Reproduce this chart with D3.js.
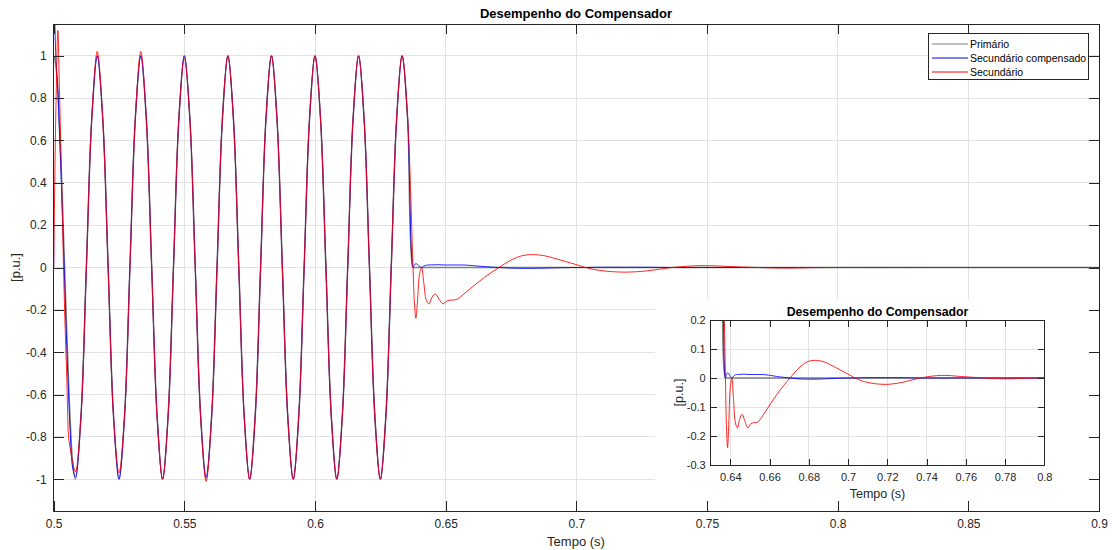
<!DOCTYPE html>
<html><head><meta charset="utf-8">
<script src="https://cdn.jsdelivr.net/npm/d3@7"></script>
<style>
html,body{margin:0;padding:0;background:#fff;}
svg{display:block;font-family:"Liberation Sans",Arial,Helvetica,sans-serif;}
</style></head>
<body>
<svg id="chart" width="1114" height="550"></svg>
<script>
// ---------- DATA ----------
const chartTitle = "Desempenho do Compensador";
const xLabel = "Tempo (s)";
const yLabel = "[p.u.]";
const seriesNames = ["Primário", "Secundário compensado", "Secundário"];

const time = [
  0.5000, 0.50003, 0.5008, 0.5016, 0.50208, 0.5030, 0.50417, 0.5050, 0.5057, 0.50625, 0.5073, 0.50833,
  0.510417, 0.5125, 0.514583, 0.516667, 0.51875, 0.520833, 0.522917, 0.525,
  0.527083, 0.529167, 0.53125, 0.533333, 0.535417, 0.5375, 0.539583, 0.541667,
  0.54375, 0.545833, 0.547917, 0.55, 0.552083, 0.554167, 0.55625, 0.558333,
  0.560417, 0.5625, 0.564583, 0.566667, 0.56875, 0.570833, 0.572917, 0.575,
  0.577083, 0.579167, 0.58125, 0.583333, 0.585417, 0.5875, 0.589583, 0.591667,
  0.59375, 0.595833, 0.597917, 0.6, 0.602083, 0.604167, 0.60625, 0.608333,
  0.610417, 0.6125, 0.614583, 0.616667, 0.61875, 0.620833, 0.622917, 0.625,
  0.627083, 0.629167, 0.63125, 0.633333, 0.635417, 0.6375,
  0.6380, 0.6386, 0.6392, 0.6400, 0.6408, 0.6416, 0.6426, 0.6436, 0.6448, 0.6460,
  0.6475, 0.6490, 0.6505, 0.6520, 0.6540, 0.6565, 0.6594, 0.6650, 0.6704, 0.6750,
  0.6790, 0.6832, 0.6880, 0.6940, 0.7009, 0.7035, 0.7090, 0.7188, 0.7270, 0.7366,
  0.7477, 0.7580, 0.7690, 0.7800, 0.7900, 0.8000, 0.8500, 0.9000
];

const primario = [
  1, 1, 0.955, 0.824, 0.707, 0.426, 0, -0.309, -0.546, -0.707, -0.925, -1,
  -0.707, 0, 0.707, 1, 0.707, 0, -0.707, -1,
  -0.707, 0, 0.707, 1, 0.707, 0, -0.707, -1,
  -0.707, 0, 0.707, 1, 0.707, 0, -0.707, -1,
  -0.707, 0, 0.707, 1, 0.707, 0, -0.707, -1,
  -0.707, 0, 0.707, 1, 0.707, 0, -0.707, -1,
  -0.707, 0, 0.707, 1, 0.707, 0, -0.707, -1,
  -0.707, 0, 0.707, 1, 0.707, 0, -0.707, -1,
  -0.707, 0, 0.707, 1, 0.707, 0,
  0, 0, 0, 0, 0, 0, 0, 0, 0, 0,
  0, 0, 0, 0, 0, 0, 0, 0, 0, 0,
  0, 0, 0, 0, 0, 0, 0, 0, 0, 0,
  0, 0, 0, 0, 0, 0, 0, 0
];

const secundarioCompensado = [
  0, 1.35, 1.0, 0.84, 0.68, 0.37, -0.06, -0.37, -0.6, -0.76, -0.95, -0.99,
  -0.707, 0, 0.707, 1, 0.707, 0, -0.707, -1,
  -0.707, 0, 0.707, 1, 0.707, 0, -0.707, -1,
  -0.707, 0, 0.707, 1, 0.707, 0, -0.707, -0.99,
  -0.707, 0, 0.707, 1, 0.707, 0, -0.707, -1,
  -0.707, 0, 0.707, 1, 0.707, 0, -0.707, -1,
  -0.707, 0, 0.707, 1, 0.707, 0, -0.707, -1,
  -0.707, 0, 0.707, 1, 0.707, 0, -0.707, -1,
  -0.707, 0, 0.707, 1, 0.707, 0,
  0.012, 0.018, 0.015, 0.005, 0.0, 0.006, 0.011, 0.012, 0.012, 0.013,
  0.013, 0.012, 0.012, 0.012, 0.012, 0.012, 0.010, 0.004, 0.0, -0.003,
  -0.004, -0.004, -0.003, -0.001, 0.0, 0.0, 0.001, 0.001, 0.001, 0.0,
  0.0, 0.0, 0.0, 0.0, 0.0, 0.0, 0, 0
];

const secundario = [
  0, 0.03, 0.72, 1.12, 0.9, 0.42, -0.2, -0.52, -0.8, -0.85, -0.92, -0.965,
  -0.707, 0, 0.707, 1.02, 0.707, 0, -0.707, -0.97,
  -0.707, 0, 0.707, 1.02, 0.707, 0, -0.707, -1,
  -0.707, 0, 0.707, 0.99, 0.707, 0, -0.707, -1.01,
  -0.707, 0, 0.707, 1, 0.707, 0, -0.707, -1,
  -0.707, 0, 0.707, 1, 0.707, 0, -0.707, -1,
  -0.707, 0, 0.707, 1, 0.707, 0, -0.707, -1,
  -0.707, 0, 0.707, 1, 0.707, 0, -0.707, -1,
  -0.707, 0, 0.707, 1, 0.707, 0,
  -0.16, -0.24, -0.16, -0.03, 0.0, -0.07, -0.155, -0.172, -0.14, -0.125,
  -0.15, -0.172, -0.158, -0.154, -0.152, -0.13, -0.1, -0.045, 0.0, 0.035,
  0.055, 0.061, 0.055, 0.035, 0.01, 0.0, -0.014, -0.022, -0.016, 0.0,
  0.009, 0.005, 0.0, -0.003, -0.001, 0.0, 0, 0
];

const mainXTicks = [0.5, 0.55, 0.6, 0.65, 0.7, 0.75, 0.8, 0.85, 0.9];
const mainYTicks = [-1, -0.8, -0.6, -0.4, -0.2, 0, 0.2, 0.4, 0.6, 0.8, 1];
const insetXTicks = [0.64, 0.66, 0.68, 0.7, 0.72, 0.74, 0.76, 0.78, 0.8];
const insetYTicks = [-0.3, -0.2, -0.1, 0, 0.1, 0.2];

const colors = ["#808080", "#0000ff", "#ff0000"];
const series = [primario, secundarioCompensado, secundario];

// ---------- DRAW ----------
const svg = d3.select("#chart");
const axisColor = "#262626";
const gridColor = "#e2e2e2";
const fmt = d => String(+d.toFixed(2));

function drawGrid(g, x, y, xt, yt) {
  const [x0, x1] = x.range(), [y0, y1] = y.range();
  const gl = g.append("g");
  gl.selectAll(".gx").data(xt).join("line")
    .attr("x1", d => x(d)).attr("x2", d => x(d)).attr("y1", y0).attr("y2", y1)
    .attr("stroke", gridColor).attr("stroke-width", 1).attr("shape-rendering", "crispEdges");
  gl.selectAll(".gy").data(yt).join("line")
    .attr("y1", d => y(d)).attr("y2", d => y(d)).attr("x1", x0).attr("x2", x1)
    .attr("stroke", gridColor).attr("stroke-width", 1).attr("shape-rendering", "crispEdges");
}

function drawFrame(g, x, y, xt, yt, o) {
  const [x0, x1] = x.range(), [y0, y1] = y.range();
  const ts = o.tick;
  const style = sel => {
    sel.select(".domain").remove();
    sel.selectAll("line").attr("stroke", axisColor).attr("shape-rendering", "crispEdges");
    sel.selectAll("text").attr("fill", axisColor).style("font-size", o.font + "px")
      .style("font-family", '"Liberation Sans",Arial,sans-serif');
  };
  g.append("g").attr("transform", `translate(0,${y0})`)
    .call(d3.axisBottom(x).tickValues(xt).tickFormat(fmt).tickSize(-ts).tickPadding(o.xpad)).call(style);
  g.append("g").attr("transform", `translate(0,${y1})`)
    .call(d3.axisTop(x).tickValues(xt).tickFormat("").tickSize(-ts)).call(style);
  g.append("g").attr("transform", `translate(${x0},0)`)
    .call(d3.axisLeft(y).tickValues(yt).tickFormat(fmt).tickSize(-ts).tickPadding(o.ypad)).call(style);
  g.append("g").attr("transform", `translate(${x1},0)`)
    .call(d3.axisRight(y).tickValues(yt).tickFormat("").tickSize(-ts)).call(style);
  g.append("rect").attr("x", x0).attr("y", y1).attr("width", x1 - x0).attr("height", y0 - y1)
    .attr("fill", "none").attr("stroke", axisColor).attr("stroke-width", 1).attr("shape-rendering", "crispEdges");
}

function drawLines(g, x, y, clipId) {
  const [x0, x1] = x.range(), [y0, y1] = y.range();
  svg.append("defs").append("clipPath").attr("id", clipId)
    .append("rect").attr("x", x0).attr("y", y1).attr("width", x1 - x0).attr("height", y0 - y1);
  const lg = g.append("g").attr("clip-path", `url(#${clipId})`);
  const line = d3.line().x((d, i) => x(time[i])).y(d => y(d)).curve(d3.curveCatmullRom.alpha(0.5));
  series.forEach((s, k) => {
    lg.append("path").attr("d", line(s)).attr("fill", "none")
      .attr("stroke", colors[k]).attr("stroke-width", k === 0 ? 1.5 : 0.85)
      .attr("stroke-linejoin", "round");
  });
}

// Main axes
const x = d3.scaleLinear().domain([0.5, 0.9]).range([53.7, 1099]);
const y = d3.scaleLinear().domain([-1.15, 1.15]).range([511, 24]);
const main = svg.append("g");
main.append("rect").attr("x", 53.7).attr("y", 24).attr("width", 1099 - 53.7).attr("height", 487).attr("fill", "#fff");
drawGrid(main, x, y, mainXTicks, mainYTicks);
drawLines(main, x, y, "clipMain");

// white panel behind inset
svg.append("rect").attr("x", 655).attr("y", 299).attr("width", 443).attr("height", 211).attr("fill", "#fff");

drawFrame(svg.append("g"), x, y, mainXTicks, mainYTicks, {tick: 10, font: 12, xpad: 8, ypad: 7});

svg.append("text").attr("x", 576).attr("y", 18).attr("text-anchor", "middle")
  .style("font-size", "13px").style("font-weight", "bold").attr("fill", "#000").text(chartTitle);
svg.append("text").attr("x", 576).attr("y", 546).attr("text-anchor", "middle")
  .style("font-size", "13px").attr("fill", axisColor).text(xLabel);
svg.append("text").attr("transform", "translate(20,267.5) rotate(-90)").attr("text-anchor", "middle")
  .style("font-size", "13px").attr("fill", axisColor).text(yLabel);

// Legend
const leg = svg.append("g");
leg.append("rect").attr("x", 928.5).attr("y", 33.5).attr("width", 160).attr("height", 46)
  .attr("fill", "#fff").attr("stroke", axisColor).attr("stroke-width", 1);
seriesNames.forEach((n, k) => {
  const yy = 44 + k * 14;
  leg.append("line").attr("x1", 932).attr("x2", 968).attr("y1", yy).attr("y2", yy)
    .attr("stroke", colors[k]).attr("stroke-width", 1);
  leg.append("text").attr("x", 970).attr("y", yy + 4).style("font-size", "10.5px")
    .attr("fill", "#000").text(n);
});

// Inset
const xi = d3.scaleLinear().domain([0.63, 0.8]).range([710.7, 1044.3]);
const yi = d3.scaleLinear().domain([-0.3, 0.2]).range([465, 320]);
const inset = svg.append("g");
inset.append("rect").attr("x", 710.7).attr("y", 320).attr("width", 1044.3 - 710.7).attr("height", 145).attr("fill", "#fff");
drawGrid(inset, xi, yi, insetXTicks, insetYTicks);
drawLines(inset, xi, yi, "clipInset");
drawFrame(inset, xi, yi, insetXTicks, insetYTicks, {tick: 6.5, font: 11, xpad: 8, ypad: 5});
svg.append("text").attr("x", 877.5).attr("y", 315.5).attr("text-anchor", "middle")
  .style("font-size", "12.3px").style("font-weight", "bold").attr("fill", "#000").text(chartTitle);
svg.append("text").attr("x", 877.5).attr("y", 497.5).attr("text-anchor", "middle")
  .style("font-size", "12.5px").attr("fill", axisColor).text(xLabel);
svg.append("text").attr("transform", "translate(683,392.5) rotate(-90)").attr("text-anchor", "middle")
  .style("font-size", "12.5px").attr("fill", axisColor).text(yLabel);
</script>
</body></html>
